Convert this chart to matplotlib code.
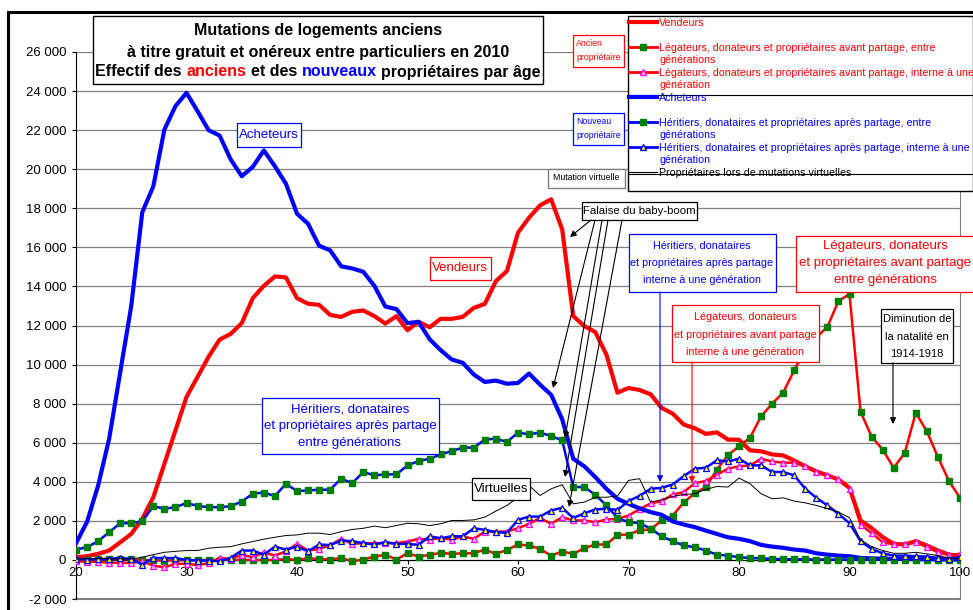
import numpy as np
import matplotlib
matplotlib.use('Agg')
import matplotlib.pyplot as plt
from matplotlib import font_manager
from matplotlib.patches import Rectangle, FancyArrowPatch
from matplotlib.lines import Line2D

ages = np.arange(20, 101)

vendeurs = [140, 190, 310, 480, 900, 1330, 2100, 3210, 4920, 6630,
            8340, 9370, 10400, 11280, 11570, 12120, 13400, 14030, 14510, 14460,
            13400, 13110, 13060, 12540, 12440, 12700, 12770, 12480, 12100, 12480,
            11760, 12190, 11910, 12340, 12340, 12440, 12900, 13110, 14270, 14790,
            16750, 17520, 18150, 18460, 16920, 12480, 11970, 11660, 10510, 8560,
            8800, 8700, 8480, 7780, 7490, 6930, 6740, 6450, 6530, 6160,
            6150, 5610, 5560, 5400, 5350, 5090, 4790, 4530, 4330, 4120,
            3690, 2020, 1630, 1170, 820, 790, 960, 740, 480, 270, 220]

legateurs_entre = [0, 20, 30, 40, 50, 30, 0, -20, -40, -20,
                   -10, -10, 0, 0, 0, 0, 0, -10, 0, 50,
                   0, 80, 50, 20, 100, -70, 20, 170, 260, 20,
                   340, 170, 260, 360, 310, 340, 340, 530, 310, 510,
                   790, 740, 560, 220, 430, 310, 600, 790, 790, 1280,
                   1300, 1520, 1560, 2020, 2270, 2940, 3420, 3730, 4620, 5370,
                   5810, 6260, 7350, 8000, 8570, 9710, 10800, 11390, 11930, 13250,
                   13610, 7590, 6310, 5650, 4720, 5470, 7540, 6580, 5270, 4040, 3180]

legateurs_interne = [-70, -90, -90, -150, -150, -150, -70, -290, -380, -200,
                     -200, -260, -170, 100, 50, 260, 140, 390, 220, 440,
                     820, 480, 560, 750, 1080, 820, 860, 860, 860, 860,
                     940, 1080, 1030, 1130, 1030, 1200, 1080, 1450, 1450, 1450,
                     1620, 1850, 2140, 1850, 2190, 2020, 2020, 1930, 2070, 2100,
                     2270, 2600, 2890, 3010, 3350, 3470, 3930, 4040, 4360, 4670,
                     4790, 4840, 5180, 5040, 4980, 4980, 4790, 4500, 4330, 4120,
                     3640, 1810, 1370, 910, 790, 790, 910, 650, 390, 270, 310]

acheteurs = [850, 1950, 3800, 6200, 9600, 13000, 17800, 19130, 22030, 23230,
             23910, 22970, 22000, 21720, 20500, 19640, 20120, 20960, 20150, 19260,
             17720, 17210, 16080, 15850, 15030, 14920, 14750, 14030, 12970, 12840,
             12120, 12190, 11300, 10740, 10260, 10090, 9490, 9110, 9180, 9020,
             9060, 9540, 8970, 8450, 7200, 5180, 4790, 4240, 3640, 3130,
             2870, 2640, 2450, 2310, 1970, 1810, 1680, 1500, 1330, 1160,
             1080, 960, 770, 680, 620, 530, 480, 340, 270, 220,
             190, 100, 80, 60, 50, 50, 40, 40, 30, 20, 20]

heritiers_entre = [530, 650, 960, 1420, 1880, 1880, 1980, 2750, 2620, 2700,
                   2910, 2770, 2700, 2700, 2750, 2990, 3390, 3450, 3270, 3900,
                   3520, 3560, 3590, 3600, 4160, 3930, 4500, 4330, 4380, 4380,
                   4840, 5060, 5180, 5400, 5570, 5750, 5750, 6160, 6210, 6040,
                   6520, 6430, 6520, 6340, 6120, 3730, 3730, 3330, 2790, 2150,
                   1930, 1890, 1600, 1210, 960, 740, 650, 480, 270, 220,
                   140, 100, 80, 50, 40, 30, 30, 20, 20, 20,
                   20, 10, 10, 10, 10, 10, 10, 10, 10, 10, 10]

heritiers_interne = [50, 20, 50, 50, 100, 50, -240, 100, 100, 90,
                     0, -30, -30, -70, 100, 480, 480, 270, 680, 530,
                     680, 440, 790, 760, 990, 960, 860, 790, 910, 820,
                     820, 770, 1210, 1110, 1210, 1210, 1620, 1540, 1420, 1390,
                     2050, 2220, 2220, 2530, 2670, 2140, 2390, 2580, 2620, 2560,
                     3010, 3280, 3640, 3690, 3860, 4290, 4670, 4720, 5100, 5040,
                     5180, 4840, 4840, 4500, 4500, 4330, 3640, 3180, 2790, 2360,
                     1880, 960, 560, 340, 220, 220, 190, 170, 100, 50, 140]

virtuelles = [50, 60, 70, 60, 60, 50, 140, 270, 390, 440,
              480, 480, 600, 650, 680, 820, 940, 1060, 1160, 1250,
              1280, 1370, 1370, 1300, 1450, 1560, 1620, 1730, 1650, 1760,
              1880, 1850, 1760, 1850, 2020, 2020, 2050, 2190, 2500, 2790,
              3210, 3810, 3300, 3640, 3850, 2870, 2960, 3210, 3210, 3270,
              4070, 4160, 2960, 3080, 3250, 3350, 3390, 3610, 3760, 3730,
              4190, 3900, 3390, 3130, 3180, 3010, 2920, 2790, 2620, 2450,
              2160, 1030, 680, 480, 340, 340, 390, 310, 220, 100, 50]

legend_labels = [
    ['Vendeurs'],
    ['Légateurs, donateurs et propriétaires avant partage, entre', 'générations'],
    ['Légateurs, donateurs et propriétaires avant partage, interne à une', 'génération'],
    ['Acheteurs'],
    ['Héritiers, donataires et propriétaires après partage, entre', 'générations'],
    ['Héritiers, donataires et propriétaires après partage, interne à une', 'génération'],
    ['Propriétaires lors de mutations virtuelles'],
]

RED = '#ff0000'
BLUE = '#0000ff'
GREEN = '#008000'
GRID = '#808080'

installed = {f.name for f in font_manager.fontManager.ttflist}
if 'Liberation Sans Narrow' in installed:
    NARROW, NSCALE = 'Liberation Sans Narrow', 1.0
else:
    NARROW, NSCALE = 'Liberation Sans', 0.82
plt.rcParams['font.family'] = ['Liberation Sans', 'DejaVu Sans']

W, H = 973, 610
fig = plt.figure(figsize=(W / 100, H / 100), dpi=100)


def fx(x):
    return x / W


def fy(y):
    return 1 - y / H


ax = fig.add_axes([fx(76), fy(599), fx(960) - fx(76), fy(52) - fy(599)])

styles = [
    dict(color=RED, lw=3.0),
    dict(color=RED, lw=1.8, marker='s', ms=4, mfc=GREEN, mec=GREEN),
    dict(color=RED, lw=1.8, marker='^', ms=4, mfc='#ffd0ff', mec='#ff00ff', mew=0.9),
    dict(color=BLUE, lw=3.0),
    dict(color=BLUE, lw=1.8, marker='s', ms=4, mfc=GREEN, mec=GREEN),
    dict(color=BLUE, lw=1.8, marker='^', ms=4, mfc='#ffff00', mec=BLUE, mew=0.9),
    dict(color='black', lw=0.7),
]
series = [vendeurs, legateurs_entre, legateurs_interne, acheteurs,
          heritiers_entre, heritiers_interne, virtuelles]

for i, (vals, st) in enumerate(zip(series, styles)):
    ax.plot(ages, vals, zorder=3 + i, solid_joinstyle='round', **st)

ax.set_xlim(20, 100)
ax.set_ylim(-2000, 26000)
yt = np.arange(-2000, 26001, 2000)
ax.set_yticks(yt)
ax.set_yticklabels([f'{v:,}'.replace(',', ' ') for v in yt])
ax.set_xticks(np.arange(20, 101, 10))
ax.tick_params(axis='y', length=3, pad=4, labelsize=9.5, color='black')
ax.tick_params(axis='x', length=3, pad=2, labelsize=9.5, color='black')
ax.yaxis.grid(True, color=GRID, lw=0.9)
ax.set_axisbelow(True)
ax.spines['bottom'].set_position(('data', 0))
ax.spines['bottom'].set_color('black')
ax.spines['left'].set_color('black')
ax.spines['top'].set_visible(False)
ax.spines['right'].set_color(GRID)
ax.add_line(Line2D([20, 100], [-2000, -2000], color=GRID, lw=1.5, clip_on=False))

# outer chart frame
fig.add_artist(Rectangle((fx(8), fy(640)), fx(1000) - fx(8), fy(12) - fy(640),
                         transform=fig.transFigure, fill=False, ec='black', lw=2.2))


def box(x0, y0, x1, y1, ec, lw=0.9):
    fig.add_artist(Rectangle((fx(x0), fy(y1)), fx(x1) - fx(x0), fy(y0) - fy(y1),
                             transform=fig.transFigure, fc='white', ec=ec, lw=lw, zorder=5))


def txt(x, y, s, color='black', family='Liberation Sans', size=9.5, ha='center', **kw):
    return fig.text(fx(x), fy(y), s, color=color, family=family, size=size,
                    ha=ha, va='center', zorder=6, **kw)


def arrow(x0, y0, x1, y1, color='black'):
    fig.add_artist(FancyArrowPatch((fx(x0), fy(y0)), (fx(x1), fy(y1)),
                                   transform=fig.transFigure, arrowstyle='-|>',
                                   mutation_scale=9, color=color, lw=0.8,
                                   shrinkA=0, shrinkB=0, zorder=5))


# title
TSIZE = 11.5
box(93, 16, 543, 84, 'black', lw=1.0)
txt(318, 31, 'Mutations de logements anciens', weight='bold', size=TSIZE)
txt(318, 52, 'à titre gratuit et onéreux entre particuliers en 2010', weight='bold', size=TSIZE)
renderer = fig.canvas.get_renderer()
pieces = [('Effectif des', 'black'), ('anciens', RED), ('et des', 'black'),
          ('nouveaux', BLUE), ('propriétaires par âge', 'black')]
full = ' '.join(p for p, _ in pieces)


def width(s):
    t = fig.text(0, 0, s, weight='bold', size=TSIZE)
    w = t.get_window_extent(renderer).width
    t.remove()
    return w


left = 318 - width(full) / 2
prefix = ''
for p, c in pieces:
    prefix = (prefix + ' ' + p) if prefix else p
    x = left + width(prefix) - width(p)
    txt(x, 72, p, color=c, weight='bold', size=TSIZE, ha='left')

# legend
box(628, 16, 973, 191, 'black', lw=1.0)
for yy in (95, 174):
    fig.add_artist(Line2D([fx(628), fx(973)], [fy(yy), fy(yy)], transform=fig.transFigure,
                          color='black', lw=0.8, zorder=5))
leg_y = [22, 47, 72, 97, 122, 147, 172]
leg_col = [RED, RED, RED, BLUE, BLUE, BLUE, 'black']
for st, yy, labs, c in zip(styles, leg_y, legend_labels, leg_col):
    s = dict(st)
    s['lw'] = {3.0: 3.0, 1.8: 2.0, 0.7: 0.8}[st['lw']]
    fig.add_artist(Line2D([fx(629), fx(657)], [fy(yy), fy(yy)], transform=fig.transFigure,
                          zorder=6, **{k: v for k, v in s.items() if k not in ('marker', 'ms', 'mfc', 'mec', 'mew')}))
    if 'marker' in st:
        fig.add_artist(Line2D([fx(643)], [fy(yy)], transform=fig.transFigure, ls='none',
                              marker=st['marker'], ms=st['ms'], mfc=st['mfc'], mec=st['mec'], zorder=7))
    for k, lab in enumerate(labs):
        txt(659, yy + 1 + 12 * k, lab, color=c, size=7.7, ha='left')

# group boxes left of legend
box(573, 35, 624, 67, RED)
txt(576, 44, 'Ancien', color=RED, family=NARROW, size=7.7 * NSCALE, ha='left')
txt(576, 57, 'propriétaire', color=RED, family=NARROW, size=7.7 * NSCALE, ha='left')
box(573, 113, 624, 145, BLUE)
txt(576, 122, 'Nouveau', color=BLUE, family=NARROW, size=7.7 * NSCALE, ha='left')
txt(576, 135, 'propriétaire', color=BLUE, family=NARROW, size=7.7 * NSCALE, ha='left')
box(548, 169, 625, 188, GRID, lw=1.0)
txt(553, 178, 'Mutation virtuelle', color='black', family=NARROW, size=7.7 * NSCALE, ha='left')

# annotations
box(237, 123, 301, 147, BLUE)
txt(269, 135, 'Acheteurs', color=BLUE)
box(430, 257, 491, 280, RED)
txt(460, 268, 'Vendeurs', color=RED)
box(472, 478, 530, 500, 'black')
txt(501, 489, 'Virtuelles')

box(262, 398, 439, 454, BLUE)
for k, s in enumerate(['Héritiers, donataires', 'et propriétaires après partage', 'entre générations']):
    txt(350, 410 + 16.5 * k, s, color=BLUE)

box(796, 236, 975, 292, RED)
for k, s in enumerate(['Légateurs, donateurs', 'et propriétaires avant partage', 'entre générations']):
    txt(885, 246 + 17 * k, s, color=RED)

box(629, 234, 776, 292, BLUE)
for k, s in enumerate(['Héritiers, donataires', 'et propriétaires après partage', 'interne à une génération']):
    txt(702, 245 + 17.5 * k, s, color=BLUE, family=NARROW, size=9.5 * NSCALE)
arrow(660, 292, 660, 482, color=BLUE)

box(672, 305, 819, 362, RED)
for k, s in enumerate(['Légateurs, donateurs', 'et propriétaires avant partage', 'interne à une génération']):
    txt(745, 317 + 17.5 * k, s, color=RED, family=NARROW, size=9.5 * NSCALE)
arrow(692, 362, 692, 483, color=RED)

box(881, 309, 953, 363, 'black')
for k, s in enumerate(['Diminution de', 'la natalité en', '1914-1918']):
    txt(917, 319 + 17.5 * k, s, family=NARROW, size=9.8 * NSCALE)
arrow(893, 363, 893, 424)

box(582, 202, 697, 220, 'black')
txt(639, 211, 'Falaise du baby-boom', family=NARROW, size=10 * NSCALE)
arrow(591, 220, 570, 237)
arrow(595, 220, 553, 388)
arrow(602, 220, 565, 438)
arrow(608, 220, 565, 477)
arrow(622, 220, 569, 507)

fig.savefig('out.png', dpi=100)
